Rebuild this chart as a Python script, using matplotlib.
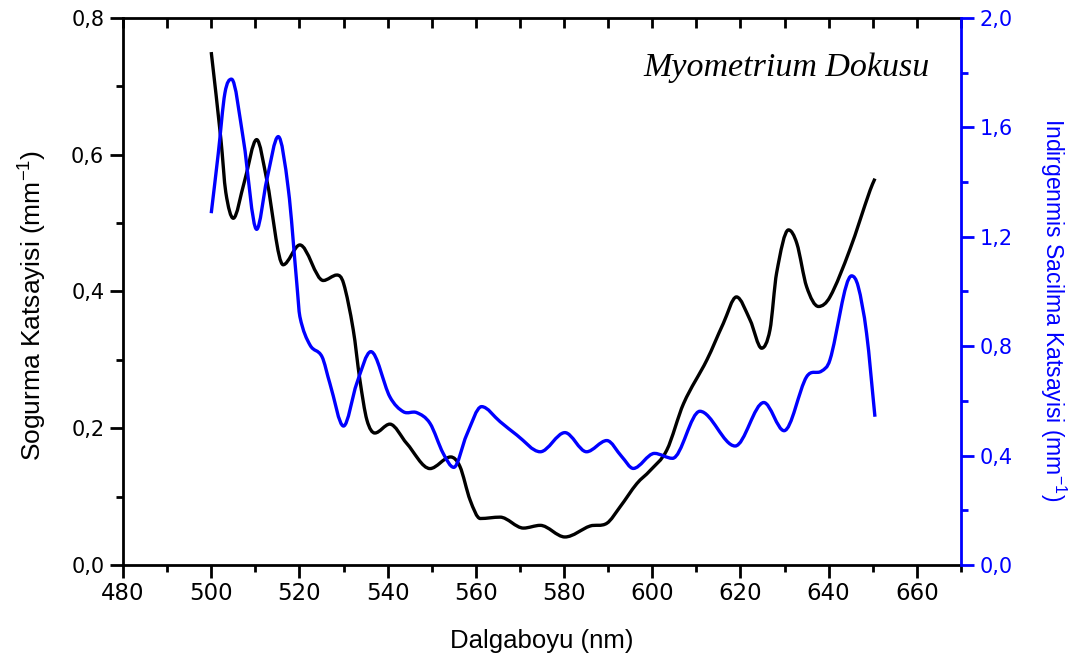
import matplotlib
matplotlib.use("Agg")
import numpy as np
import matplotlib.pyplot as plt
from matplotlib.path import Path
from matplotlib.patches import PathPatch
from matplotlib.ticker import MultipleLocator, FuncFormatter

# Absorption coefficient (left axis, mm^-1)
abs_wl = [500, 502.2, 503.3, 505, 507.5, 510.3, 512.6, 516.3, 520.1, 525.4, 528.5,
          530, 532.2, 533.7, 535.3, 537.1, 540.5, 544.3, 549.6, 554.3, 556.4,
          558.7, 561, 565.5, 570.8, 574.6, 580.2, 585.9, 589.7, 592.7, 596.5,
          599.5, 603.3, 607.1, 612.4, 616.1, 619.1, 622.2, 624.8, 626.7, 628.2,
          630.9, 632.8, 635, 637.7, 640.3, 644.8, 649.4, 650.5]
abs_val = [0.750, 0.622, 0.545, 0.507, 0.560, 0.622, 0.563, 0.439, 0.468, 0.416, 0.424,
           0.412, 0.344, 0.271, 0.212, 0.193, 0.206, 0.178, 0.141, 0.158, 0.144,
           0.095, 0.068, 0.070, 0.054, 0.058, 0.041, 0.057, 0.061, 0.085, 0.119,
           0.138, 0.168, 0.236, 0.300, 0.353, 0.392, 0.358, 0.317, 0.344, 0.427,
           0.490, 0.470, 0.407, 0.378, 0.392, 0.461, 0.548, 0.565]

# Reduced scattering coefficient (right axis, mm^-1)
sca_wl = [500, 501.6, 503.1, 504.6, 507.3, 510.3, 512.6, 515.2, 517.5, 519.4,
          520.1, 522.4, 525.1, 526.9, 530, 533, 536.2, 540.5, 543.6, 546.6,
          549.6, 552.6, 555, 557.9, 561.3, 565.5, 569.3, 574.6, 580.2, 585.1,
          589.7, 593.1, 595.7, 600.5, 604.6, 610.8, 618.8, 625.3, 629.9, 635,
          638.4, 640.3, 645.2, 646.7, 648.6, 650.5]
sca_val = [1.286, 1.505, 1.725, 1.776, 1.554, 1.227, 1.408, 1.566, 1.371, 1.030,
           0.908, 0.804, 0.762, 0.664, 0.508, 0.664, 0.780, 0.615, 0.560, 0.557,
           0.518, 0.408, 0.357, 0.475, 0.579, 0.524, 0.475, 0.414, 0.484, 0.414,
           0.455, 0.396, 0.353, 0.408, 0.390, 0.562, 0.435, 0.594, 0.491, 0.688,
           0.709, 0.750, 1.057, 1.018, 0.847, 0.542]

x_ticks = [480, 500, 520, 540, 560, 580, 600, 620, 640, 660]

BLUE = '#0000ff'
plt.rcParams['mathtext.default'] = 'regular'


def spline_path(xs, ys):
    """Cubic Hermite (Bezier) curve passing through every data point."""
    x = np.asarray(xs, float)
    y = np.asarray(ys, float)
    n = len(x)
    m = np.zeros(n)
    for i in range(n):
        if i == 0:
            m[i] = (y[1] - y[0]) / (x[1] - x[0])
        elif i == n - 1:
            m[i] = (y[-1] - y[-2]) / (x[-1] - x[-2])
        else:
            d0 = y[i] - y[i - 1]
            d1 = y[i + 1] - y[i]
            if d0 * d1 <= 0:
                m[i] = 0.0
            else:
                m[i] = (y[i + 1] - y[i - 1]) / (x[i + 1] - x[i - 1])
    verts = [(x[0], y[0])]
    codes = [Path.MOVETO]
    for i in range(n - 1):
        h = x[i + 1] - x[i]
        verts += [(x[i] + h / 3, y[i] + m[i] * h / 3),
                  (x[i + 1] - h / 3, y[i + 1] - m[i + 1] * h / 3),
                  (x[i + 1], y[i + 1])]
        codes += [Path.CURVE4] * 3
    return Path(verts, codes)


fig = plt.figure(figsize=(10.83, 6.62), dpi=100)
ax = fig.add_axes([0.1136, 0.1465, 0.7737, 0.8265])
ax2 = ax.twinx()

ax.add_patch(PathPatch(spline_path(abs_wl, abs_val), fill=False, edgecolor='black',
                       lw=2.4, capstyle='butt', joinstyle='round'))
ax2.add_patch(PathPatch(spline_path(sca_wl, sca_val), fill=False, edgecolor=BLUE,
                        lw=2.4, capstyle='butt', joinstyle='round'))

ax.set_xlim(480, 670)
ax.set_ylim(0, 0.8)
ax2.set_ylim(0, 2.0)

comma = FuncFormatter(lambda v, p: f"{v:.1f}".replace('.', ','))

ax.set_xticks(x_ticks)
ax.xaxis.set_minor_locator(MultipleLocator(10))
ax.yaxis.set_major_locator(MultipleLocator(0.2))
ax.yaxis.set_minor_locator(MultipleLocator(0.1))
ax.yaxis.set_major_formatter(comma)
ax2.yaxis.set_major_locator(MultipleLocator(0.4))
ax2.yaxis.set_minor_locator(MultipleLocator(0.2))
ax2.yaxis.set_major_formatter(comma)

for sp in ['left', 'bottom', 'top']:
    ax.spines[sp].set_linewidth(2.0)
ax.spines['right'].set_visible(False)
for sp in ['left', 'bottom', 'top']:
    ax2.spines[sp].set_visible(False)
ax2.spines['right'].set_linewidth(2.0)
ax2.spines['right'].set_color(BLUE)

ax.tick_params(axis='x', which='major', direction='out', length=9.5, width=2,
               pad=3, labelsize=16.5)
ax.tick_params(axis='x', which='minor', direction='out', length=5, width=2)
ax.tick_params(axis='y', which='major', direction='out', length=9.5, width=2, pad=4,
               labelsize=15)
ax.tick_params(axis='y', which='minor', direction='out', length=5, width=2)
ax2.tick_params(axis='y', which='major', direction='out', length=9.5, width=2,
                colors=BLUE, labelsize=15, pad=4)
ax2.tick_params(axis='y', which='minor', direction='out', length=5, width=2,
                colors=BLUE)

# inward ticks along the top edge
top = ax.secondary_xaxis('top')
top.set_xticks(x_ticks)
top.xaxis.set_minor_locator(MultipleLocator(10))
top.tick_params(axis='x', which='both', direction='in', length=7, width=2,
                labeltop=False)
top.spines['top'].set_visible(False)

ax.set_xlabel('Dalgaboyu (nm)', fontsize=18.5, family='Liberation Sans', labelpad=17)
ax.set_ylabel('Sogurma Katsayisi (mm$^{-1}$)', fontsize=19,
              family='Liberation Sans', labelpad=16)
ax.yaxis.label.set_y(0.475)
ax2.set_ylabel('Indirgenmis Sacilma Katsayisi (mm$^{-1}$)', fontsize=16.5,
               family='Liberation Sans', color=BLUE, rotation=270, labelpad=40)
ax2.yaxis.label.set_y(0.466)

ax.text(0.963, 0.908, 'Myometrium Dokusu', transform=ax.transAxes, ha='right',
        va='center', fontsize=24.5, style='italic', family='Liberation Serif')

fig.savefig('out.png', dpi=100)
